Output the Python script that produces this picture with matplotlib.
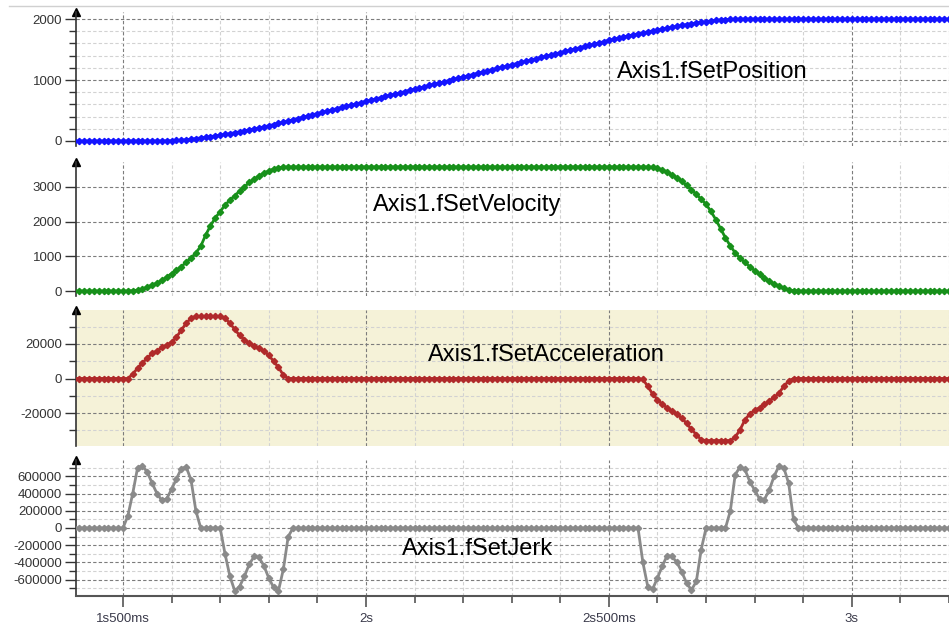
import numpy as np
import matplotlib
matplotlib.use('Agg')
import matplotlib.pyplot as plt
from matplotlib.ticker import MultipleLocator, FixedLocator, FixedFormatter

plt.rcParams['font.family'] = ['Liberation Sans', 'DejaVu Sans']
plt.rcParams['axes.unicode_minus'] = False

# scope samples, 10 ms apart
t = np.linspace(1.40, 3.20, 181)

position = [
    0, 0, 0, 0, 0, 0, 0, 0, 0, 0,
    0, 0, 0, 0, 0, 0, 0, 0, 1, 3,
    5, 9, 15, 22, 30, 40, 50, 61, 72, 83,
    95, 108, 122, 136, 150, 166, 182, 198, 215, 232,
    250, 269, 288, 308, 328, 348, 368, 389, 410, 430,
    450, 470, 490, 510, 530, 550, 570, 590, 610, 630,
    650, 670, 690, 710, 730, 750, 770, 790, 810, 830,
    850, 870, 890, 910, 930, 950, 970, 990, 1010, 1030,
    1050, 1070, 1090, 1110, 1130, 1150, 1170, 1190, 1210, 1230,
    1250, 1270, 1290, 1310, 1330, 1350, 1370, 1390, 1410, 1430,
    1450, 1470, 1490, 1510, 1530, 1550, 1570, 1590, 1610, 1630,
    1650, 1669, 1688, 1706, 1724, 1741, 1758, 1774, 1790, 1805,
    1820, 1835, 1850, 1866, 1881, 1896, 1910, 1923, 1936, 1948,
    1959, 1969, 1978, 1986, 1992, 1996, 1999, 2000, 2000, 2000,
    2000, 2000, 2000, 2000, 2000, 2000, 2000, 2000, 2000, 2000,
    2000, 2000, 2000, 2000, 2000, 2000, 2000, 2000, 2000, 2000,
    2000, 2000, 2000, 2000, 2000, 2000, 2000, 2000, 2000, 2000,
    2000, 2000, 2000, 2000, 2000, 2000, 2000, 2000, 2000, 2000,
    2000,
]

velocity = [
    0, 0, 0, 0, 0, 0, 0, 0, 0, 0,
    0, 0, 10, 25, 60, 110, 170, 230, 310, 400,
    500, 600, 700, 830, 950, 1100, 1290, 1610, 1880, 2110,
    2290, 2480, 2620, 2750, 2880, 3010, 3130, 3230, 3320, 3400,
    3460, 3520, 3560, 3575, 3580, 3580, 3580, 3580, 3580, 3580,
    3580, 3580, 3580, 3580, 3580, 3580, 3580, 3580, 3580, 3580,
    3580, 3580, 3580, 3580, 3580, 3580, 3580, 3580, 3580, 3580,
    3580, 3580, 3580, 3580, 3580, 3580, 3580, 3580, 3580, 3580,
    3580, 3580, 3580, 3580, 3580, 3580, 3580, 3580, 3580, 3580,
    3580, 3580, 3580, 3580, 3580, 3580, 3580, 3580, 3580, 3580,
    3580, 3580, 3580, 3580, 3580, 3580, 3580, 3580, 3580, 3580,
    3580, 3580, 3580, 3580, 3580, 3580, 3580, 3580, 3580, 3570,
    3540, 3490, 3430, 3350, 3270, 3160, 3050, 2920, 2790, 2650,
    2500, 2300, 2060, 1800, 1530, 1300, 1100, 950, 830, 700,
    590, 480, 380, 290, 210, 140, 80, 30, 10, 0,
    0, 0, 0, 0, 0, 0, 0, 0, 0, 0,
    0, 0, 0, 0, 0, 0, 0, 0, 0, 0,
    0, 0, 0, 0, 0, 0, 0, 0, 0, 0,
    0,
]

acceleration = [
    0, 0, 0, 0, 0, 0, 0, 0, 0, 0,
    0, 0, 2500, 6000, 9000, 12000, 14500, 16000, 18000, 19500,
    21000, 24000, 28000, 32000, 35000, 36000, 36000, 36000, 36000, 36000,
    36000, 35000, 32000, 28500, 25000, 22500, 20500, 19000, 17500, 16000,
    13500, 10000, 6500, 2000, 0, 0, 0, 0, 0, 0,
    0, 0, 0, 0, 0, 0, 0, 0, 0, 0,
    0, 0, 0, 0, 0, 0, 0, 0, 0, 0,
    0, 0, 0, 0, 0, 0, 0, 0, 0, 0,
    0, 0, 0, 0, 0, 0, 0, 0, 0, 0,
    0, 0, 0, 0, 0, 0, 0, 0, 0, 0,
    0, 0, 0, 0, 0, 0, 0, 0, 0, 0,
    0, 0, 0, 0, 0, 0, 0, -500, -4500, -9000,
    -12200, -15000, -17000, -19000, -20500, -23000, -26000, -29500, -32500, -35500,
    -36000, -36000, -36000, -36000, -36000, -36000, -34000, -29700, -24000, -20500,
    -18500, -17000, -15000, -13000, -11000, -8500, -4500, -1500, 0, 0,
    0, 0, 0, 0, 0, 0, 0, 0, 0, 0,
    0, 0, 0, 0, 0, 0, 0, 0, 0, 0,
    0, 0, 0, 0, 0, 0, 0, 0, 0, 0,
    0,
]

jerk = [
    0, 0, 0, 0, 0, 0, 0, 0, 0, 0,
    0, 140000, 400000, 700000, 720000, 650000, 520000, 400000, 320000, 340000,
    450000, 570000, 690000, 710000, 560000, 200000, 0, 0, 0, 0,
    0, -300000, -560000, -730000, -680000, -560000, -420000, -330000, -340000, -440000,
    -580000, -690000, -730000, -480000, -100000, 0, 0, 0, 0, 0,
    0, 0, 0, 0, 0, 0, 0, 0, 0, 0,
    0, 0, 0, 0, 0, 0, 0, 0, 0, 0,
    0, 0, 0, 0, 0, 0, 0, 0, 0, 0,
    0, 0, 0, 0, 0, 0, 0, 0, 0, 0,
    0, 0, 0, 0, 0, 0, 0, 0, 0, 0,
    0, 0, 0, 0, 0, 0, 0, 0, 0, 0,
    0, 0, 0, 0, 0, 0, 0, -400000, -680000, -710000,
    -580000, -440000, -320000, -330000, -400000, -510000, -640000, -720000, -620000, -250000,
    0, 0, 0, 0, 0, 200000, 620000, 710000, 680000, 540000,
    440000, 340000, 330000, 440000, 600000, 720000, 700000, 520000, 100000, 0,
    0, 0, 0, 0, 0, 0, 0, 0, 0, 0,
    0, 0, 0, 0, 0, 0, 0, 0, 0, 0,
    0, 0, 0, 0, 0, 0, 0, 0, 0, 0,
    0,
]

x_ticks = [1.5, 2.0, 2.5, 3.0]
x_tick_labels = ['1s500ms', '2s', '2s500ms', '3s']

W, H = 949, 631
fig = plt.figure(figsize=(W / 100, H / 100), dpi=100)

# light frame line at the very top of the screenshot
fig.add_artist(plt.Line2D([0.01, 1], [1 - 6 / H] * 2, color='#d0d0d0', lw=1))

# (values, colour, label, (top px, bottom px), ylim, major, minor, face, label px)
panels = [
    (position, '#1414ff', 'Axis1.fSetPosition', (12, 146), (-82, 2115), 1000, 200, 'white', (617, 72)),
    (velocity, '#17901a', 'Axis1.fSetVelocity', (162, 296), (-144, 3721), 1000, None, 'white', (373, 205)),
    (acceleration, '#b02a2a', 'Axis1.fSetAcceleration', (310, 446), (-39130, 39710), 20000, 10000, '#f5f2d8', (428, 355)),
    (jerk, '#8a8a8a', 'Axis1.fSetJerk', (460, 596), (-790000, 790000), 200000, 100000, 'white', (402, 549)),
]

left = 76
for i, (vals, col, name, (top, bot), ylim, major, minor, face, (lx, ly)) in enumerate(panels):
    ax = fig.add_axes([left / W, 1 - bot / H, (W - left) / W, (bot - top) / H])
    ax.set_facecolor(face)
    ax.plot(t, vals, color=col, lw=2.0, marker='D', ms=3.2, zorder=3)
    ax.set_xlim(1.4033, 3.20)
    ax.set_ylim(*ylim)

    ax.yaxis.set_major_locator(MultipleLocator(major))
    if minor:
        ax.yaxis.set_minor_locator(MultipleLocator(minor))
    ax.xaxis.set_major_locator(FixedLocator(x_ticks))
    ax.xaxis.set_major_formatter(FixedFormatter(x_tick_labels))
    ax.xaxis.set_minor_locator(MultipleLocator(0.1))

    ax.grid(which='major', color='#7c7c7c', ls=(0, (3, 2)), lw=0.8, zorder=1)
    ax.grid(which='minor', color='#d2d2d2', ls=(0, (3, 2)), lw=0.8, zorder=1)
    ax.set_axisbelow(True)

    for s in ['top', 'right']:
        ax.spines[s].set_visible(False)
    ax.spines['left'].set_color('#333333')
    ax.spines['left'].set_linewidth(1.2)
    ax.plot(0, 1, marker='^', color='black', ms=6, transform=ax.transAxes, clip_on=False)

    ax.tick_params(axis='y', which='major', length=8, width=1, color='#333333',
                   labelsize=9.5, labelcolor='#333333', pad=2)
    ax.tick_params(axis='y', which='minor', length=5, width=1, color='#333333')

    if i < 3:
        ax.spines['bottom'].set_visible(False)
        ax.tick_params(axis='x', which='both', length=0, labelbottom=False)
    else:
        ax.spines['bottom'].set_color('#555555')
        ax.spines['bottom'].set_linewidth(1.5)
        ax.tick_params(axis='x', which='major', length=8, width=1.2, color='#555555',
                       labelsize=9.5, labelcolor='#3a3a4a', pad=4)
        ax.tick_params(axis='x', which='minor', length=5, width=1.2, color='#555555')

    fig.text(lx / W, 1 - ly / H, name, fontsize=17, ha='left', va='center', color='black')

fig.savefig('out.png', dpi=100)
